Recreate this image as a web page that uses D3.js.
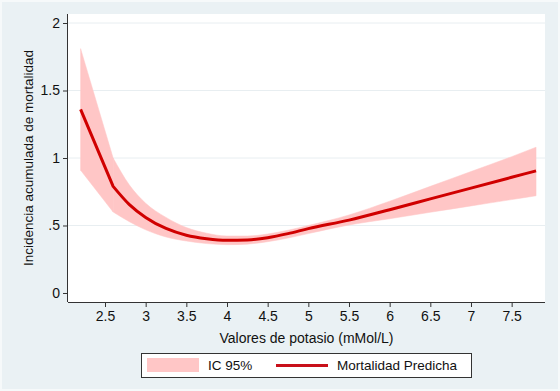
<!DOCTYPE html>
<html>
<head>
<meta charset="utf-8">
<script src="https://cdn.jsdelivr.net/npm/d3@7"></script>
<style>
  html, body { margin: 0; padding: 0; background: #eaf1f4; }
  svg { display: block; font-family: "Liberation Sans", Arial, sans-serif; }
</style>
</head>
<body>
<div id="viz"></div>
<script>
const width = 560
const height = 391

// potassium values (x) and predicted mortality with 95% CI
const potasio = [2.2, 2.6, 2.8, 3.0, 3.25, 3.5, 3.75, 4.0, 4.25, 4.5, 4.75, 5.0, 5.5, 6.0, 6.5, 7.0, 7.5, 7.8]
const predicha = [1.36, 0.79, 0.655, 0.56, 0.478, 0.428, 0.402, 0.39, 0.393, 0.41, 0.44, 0.477, 0.54, 0.617, 0.697, 0.777, 0.857, 0.905]
const icSup = [1.81, 1.0, 0.80, 0.665, 0.56, 0.485, 0.443, 0.422, 0.422, 0.437, 0.465, 0.5, 0.578, 0.68, 0.79, 0.9, 1.01, 1.08]
const icInf = [0.91, 0.60, 0.528, 0.468, 0.415, 0.385, 0.366, 0.358, 0.362, 0.38, 0.407, 0.44, 0.504, 0.55, 0.598, 0.645, 0.692, 0.72]

const xTicks = [2.5, 3, 3.5, 4, 4.5, 5, 5.5, 6, 6.5, 7, 7.5]
const yTicks = [0, 0.5, 1, 1.5, 2]
const yTickLabels = ["0", ".5", "1", "1.5", "2"]

const lineColor = "#d00000"
const bandColor = "#ffc6c6"
const bgColor = "#eaf1f4"

const plot = {left: 68, right: 545, top: 14, bottom: 302}

const svg = d3.select("#viz").append("svg").attr("width", width).attr("height", height)

svg.append("rect").attr("x", 0).attr("y", 0).attr("width", width).attr("height", height).attr("fill", bgColor)
svg.append("rect").attr("x", 1).attr("y", 1).attr("width", width-2).attr("height", height-2).attr("fill", "none").attr("stroke", "#f6f9fa").attr("stroke-width", 2)

// plot region
svg.append("rect").attr("x", plot.left).attr("y", plot.top).attr("width", plot.right-plot.left).attr("height", plot.bottom-plot.top).attr("fill", "white")

const xScale = d3.scaleLinear().domain([2.045, 7.91]).range([plot.left, plot.right])
const yScale = d3.scaleLinear().domain([-0.0667, 2.0667]).range([plot.bottom, plot.top])

// gridlines
svg.append("g").selectAll("line").data(yTicks.filter(d=>d>0)).enter().append("line")
    .attr("x1", plot.left).attr("x2", plot.right)
    .attr("y1", d=>yScale(d)).attr("y2", d=>yScale(d))
    .attr("stroke", "#e8eef1").attr("stroke-width", 1)

const data = potasio.map((p, i)=>({x: p, y: predicha[i], lo: icInf[i], hi: icSup[i]}))
// first piece (2.2 -> 2.6) is straight, the rest is a smooth curve
const head = data.slice(0, 2)
const tail = data.slice(1)

const areaLin = d3.area().x(d=>xScale(d.x)).y0(d=>yScale(d.lo)).y1(d=>yScale(d.hi))
const area = d3.area().x(d=>xScale(d.x)).y0(d=>yScale(d.lo)).y1(d=>yScale(d.hi)).curve(d3.curveMonotoneX)
const lineLin = d3.line().x(d=>xScale(d.x)).y(d=>yScale(d.y))
const line = d3.line().x(d=>xScale(d.x)).y(d=>yScale(d.y)).curve(d3.curveMonotoneX)

svg.append("path").datum(head).attr("d", areaLin).attr("fill", bandColor).attr("stroke", bandColor).attr("stroke-width", 0.5)
svg.append("path").datum(tail).attr("d", area).attr("fill", bandColor).attr("stroke", bandColor).attr("stroke-width", 0.5)
svg.append("path").attr("d", lineLin(head) + line(tail).replace(/^M/, "L"))
    .attr("fill", "none").attr("stroke", lineColor).attr("stroke-width", 3).attr("stroke-linejoin", "round")

// axes
const xAxis = d3.axisBottom(xScale).tickValues(xTicks).tickSize(5).tickPadding(4).tickFormat(d=>d)
const yAxis = d3.axisLeft(yScale).tickValues(yTicks).tickSize(5).tickPadding(3).tickFormat((d,i)=>yTickLabels[i])

const xAxisGroup = svg.append("g").attr("transform", `translate(0, ${plot.bottom})`).call(xAxis)
xAxisGroup.select(".domain").attr("d", `M${plot.left},0.5H${plot.right}`).attr("stroke", "#333")
xAxisGroup.selectAll("line").attr("stroke", "#333")
xAxisGroup.selectAll("text").attr("fill", "#111").attr("font-size", 14).attr("font-family", "Liberation Sans, Arial, sans-serif")

const yAxisGroup = svg.append("g").attr("transform", `translate(${plot.left}, 0)`).call(yAxis)
yAxisGroup.select(".domain").attr("d", `M-0.5,${plot.top}V${plot.bottom}`).attr("stroke", "#333")
yAxisGroup.selectAll("line").attr("stroke", "#333")
yAxisGroup.selectAll("text").attr("fill", "#111").attr("font-size", 14).attr("font-family", "Liberation Sans, Arial, sans-serif")

// axis titles
svg.append("text").attr("x", (plot.left+plot.right)/2).attr("y", 343).attr("text-anchor", "middle")
    .attr("font-size", 14).attr("fill", "#111").text("Valores de potasio (mMol/L)")
svg.append("text").attr("transform", `translate(33, ${(plot.top+plot.bottom)/2}) rotate(-90)`).attr("text-anchor", "middle")
    .attr("font-size", 13.5).attr("fill", "#111").text("Incidencia acumulada de mortalidad")

// legend
const legend = svg.append("g").attr("transform", "translate(141, 353)")
legend.append("rect").attr("x", 0.5).attr("y", 0.5).attr("width", 330).attr("height", 24).attr("fill", "white").attr("stroke", "#333").attr("stroke-width", 1)
legend.append("rect").attr("x", 6).attr("y", 5).attr("width", 52).attr("height", 14).attr("fill", bandColor)
legend.append("text").attr("x", 67).attr("y", 17).attr("font-size", 13.5).attr("fill", "#111").text("IC 95%")
legend.append("line").attr("x1", 135).attr("x2", 187).attr("y1", 12.5).attr("y2", 12.5).attr("stroke", "#c8101a").attr("stroke-width", 3)
legend.append("text").attr("x", 196).attr("y", 17).attr("font-size", 13.5).attr("fill", "#111").text("Mortalidad Predicha")
</script>
</body>
</html>
